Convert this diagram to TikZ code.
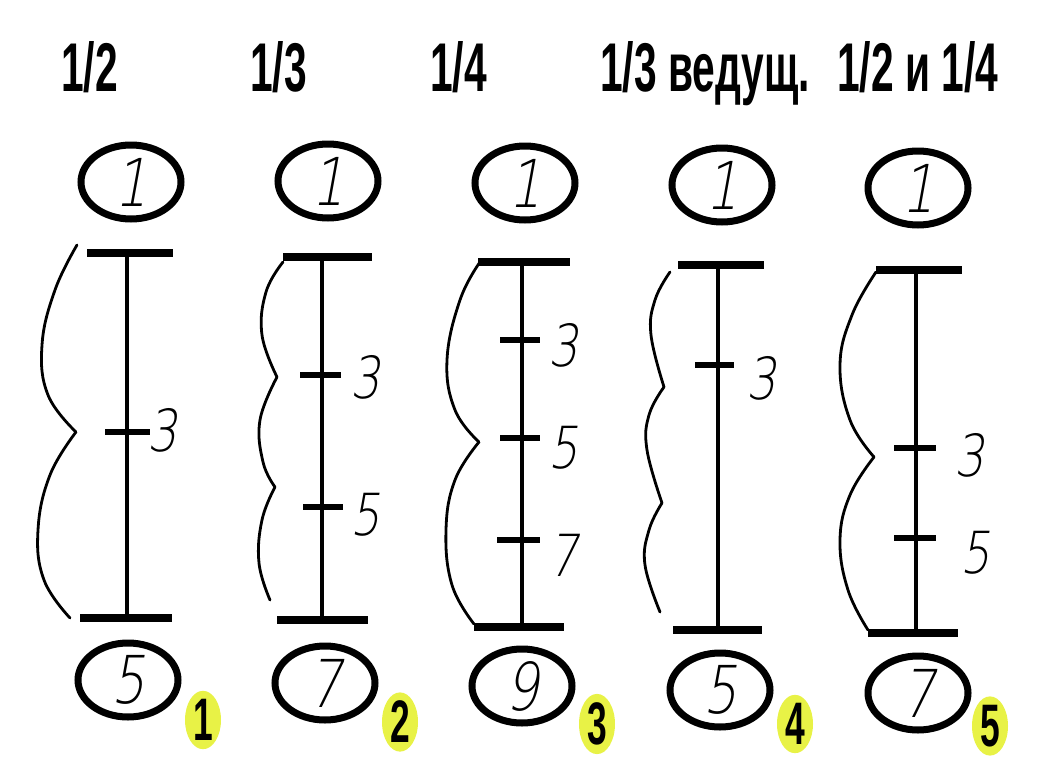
\documentclass[tikz,border=0pt]{standalone}
\usepackage{fontspec}
\usetikzlibrary{shapes.geometric}
\newfontfamily\headfont[FakeStretch=0.59]{Liberation Sans}
\newfontfamily\digfont[FakeSlant=0.18,FakeStretch=0.8]{DejaVu Sans ExtraLight}
\definecolor{tagyellow}{RGB}{232,242,70}
\begin{document}
\begin{tikzpicture}[x=1pt,y=-1pt,
  ring/.style={draw,ellipse,line width=7pt,minimum width=100pt,minimum height=68pt,inner sep=0pt,font=\digfont\fontsize{66}{66}\selectfont},
  head/.style={anchor=base west,inner sep=0pt,font=\headfont\bfseries\fontsize{69}{69}\selectfont},
  bar/.style={line width=8.5pt},
  shaft/.style={line width=3.5pt},
  tick/.style={line width=5.5pt},
  fret/.style={anchor=west,inner sep=0pt,font=\digfont\fontsize{58}{58}\selectfont},
  bow/.style={line width=2.8pt,line cap=round},
  tag/.style={ellipse,fill=tagyellow,minimum width=36pt,minimum height=56pt,inner sep=0pt,font=\headfont\bfseries\fontsize{60}{60}\selectfont}]
\useasboundingbox (0,0) rectangle (1047,782);
% headings
\node[head] (h1) at (61,91) {1/2};
\node[head] (h2) at (250,91) {1/3};
\node[head] (h3) at (430,91) {1/4};
\node[head] (h4) at (600,91) {1/3 ведущ.};
\node[head] (h5) at (837,91) {1/2 и 1/4};
% column 1
\node[ring,minimum height=74pt] (top1) at (131,182) {1};
\node[ring,minimum height=74pt] (bot1) at (128,680) {5};
\node[tag] (tag1) at (203,720) {1};
\coordinate (t1) at (127,253);
\coordinate (b1) at (127,618);
\draw[bar] (87,253) -- (173,253);
\draw[bar] (80,618) -- (172,618);
\draw[shaft] (t1) -- (b1);
\draw[tick] (105,432) -- (150,432);
\node[fret] (f13) at (147,430) {3};
\draw[bow] plot[smooth,tension=0.7] coordinates {(77,245) (55,290) (42,345) (48,395) (76,432)};
\draw[bow] plot[smooth,tension=0.7] coordinates {(76,432) (50,475) (38,530) (44,580) (70,618)};
% column 2
\node[ring,minimum height=74pt] (top2) at (328,181) {1};
\node[ring,minimum height=74pt] (bot2) at (325,683) {7};
\node[tag] (tag2) at (400,722) {2};
\coordinate (t2) at (322,257);
\coordinate (b2) at (322,620);
\draw[bar] (283,257) -- (372,257);
\draw[bar] (277,620) -- (368,620);
\draw[shaft] (t2) -- (b2);
\draw[tick] (300,375) -- (341,375);
\draw[tick] (303,507) -- (343,507);
\node[fret] (f23) at (350,377) {3};
\node[fret] (f25) at (350,515) {5};
\draw[bow] plot[smooth,tension=0.7] coordinates {(283,262) (266,292) (262,335) (277,377)};
\draw[bow] plot[smooth,tension=0.7] coordinates {(277,377) (260,420) (263,462) (275,487)};
\draw[bow] plot[smooth,tension=0.7] coordinates {(275,487) (262,520) (259,563) (270,600)};
% column 3
\node[ring,minimum height=74pt] (top3) at (525,183) {1};
\node[ring,minimum height=74pt] (bot3) at (522,686) {9};
\node[tag] (tag3) at (597,724) {3};
\coordinate (t3) at (522,262);
\coordinate (b3) at (522,627);
\draw[bar] (478,262) -- (570,262);
\draw[bar] (474,627) -- (564,627);
\draw[shaft] (t3) -- (b3);
\draw[tick] (500,340) -- (540,340);
\draw[tick] (500,438) -- (540,438);
\draw[tick] (497,540) -- (540,540);
\node[fret] (f33) at (548,345) {3};
\node[fret] (f35) at (548,448) {5};
\node[fret] (f37) at (548,555) {7};
\draw[bow] plot[smooth,tension=0.7] coordinates {(480,262) (460,300) (447,360) (455,410) (479,442)};
\draw[bow] plot[smooth,tension=0.7] coordinates {(479,442) (455,480) (446,530) (452,585) (474,624)};
% column 4
\node[ring,minimum height=74pt] (top4) at (722,185) {1};
\node[ring,minimum height=74pt] (bot4) at (720,690) {5};
\node[tag] (tag4) at (795,724) {4};
\coordinate (t4) at (718,265);
\coordinate (b4) at (718,630);
\draw[bar] (678,265) -- (764,265);
\draw[bar] (673,630) -- (762,630);
\draw[shaft] (t4) -- (b4);
\draw[tick] (695,365) -- (734,365);
\node[fret] (f43) at (746,378) {3};
\draw[bow] plot[smooth,tension=0.7] coordinates {(670,272) (655,300) (651,335) (664,387)};
\draw[bow] plot[smooth,tension=0.7] coordinates {(664,387) (649,415) (647,450) (662,503)};
\draw[bow] plot[smooth,tension=0.7] coordinates {(662,503) (649,530) (645,565) (660,612)};
% column 5
\node[ring,minimum height=74pt] (top5) at (918,188) {1};
\node[ring,minimum height=74pt] (bot5) at (918,693) {7};
\node[tag] (tag5) at (990,726) {5};
\coordinate (t5) at (916,270);
\coordinate (b5) at (916,633);
\draw[bar] (876,270) -- (962,270);
\draw[bar] (868,633) -- (958,633);
\draw[shaft] (t5) -- (b5);
\draw[tick] (894,448) -- (936,448);
\draw[tick] (894,538) -- (936,538);
\node[fret] (f53) at (954,455) {3};
\node[fret] (f55) at (960,553) {5};
\draw[bow] plot[smooth,tension=0.7] coordinates {(876,272) (852,315) (840,365) (850,420) (874,457)};
\draw[bow] plot[smooth,tension=0.7] coordinates {(874,457) (850,495) (840,540) (848,590) (868,630)};
\end{tikzpicture}
\end{document}
